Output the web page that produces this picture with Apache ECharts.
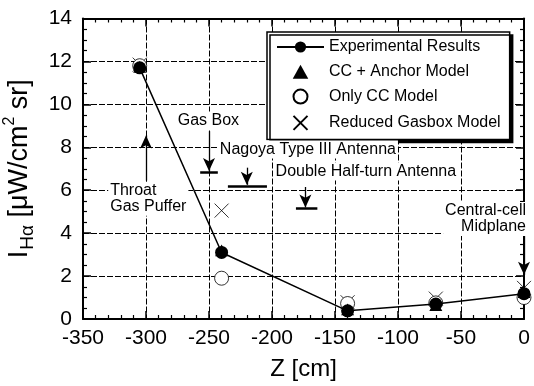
<!DOCTYPE html>
<html>
<head>
<meta charset="utf-8">
<script src="https://cdn.jsdelivr.net/npm/echarts@6/dist/echarts.min.js"></script>
<style>
  html, body { margin: 0; padding: 0; background: #fff; }
  #main { width: 534px; height: 386px; }
</style>
</head>
<body>
<div id="main"></div>
<script>
// measured values [z, intensity]
var expResults = [[-305, 11.7], [-240, 3.1], [-140, 0.38], [-70, 0.7], [0, 1.18]];
var ccAnchor = [[-305, 11.75], [-240, 3.2], [-140, 0.45], [-70, 0.65], [0, 1.25]];
var onlyCC = [[-305, 11.8], [-240, 1.9], [-140, 0.72], [-70, 0.75], [0, 1.0]];
var reducedGasbox = [[-305, 11.85], [-240, 5.05], [-140, 0.78], [-70, 0.95], [0, 1.45]];

// annotations, in data units
var annotLabels = [
  ['Gas Box', -250.5, 9.25, 'center'],
  ['Nagoya Type III Antenna', -171.5, 7.9, 'center'],
  ['Double Half-turn Antenna', -125.5, 6.87, 'center'],
  ['Throat\nGas Puffer', -330, 5.6, 'left'],
  ['Central-cell\nMidplane', 0, 4.66, 'right']
];
var arrows = [
  [-300, 6.45, -300, 8.55],
  [-250, 8.75, -250, 6.9],
  [-220, 7.05, -220, 6.25],
  [-173.5, 6.15, -173.5, 5.2],
  [0, 3.92, 0, 2.06]
];
var bars = [
  [-257, -243, 6.85],
  [-235, -204, 6.2],
  [-181, -164, 5.16]
];

var chart = echarts.init(document.getElementById('main'));
var FONT = 'Liberation Sans, Arial, sans-serif';

function baseX(pos) {
  return {
    type: 'value', min: -350, max: 0, interval: 50, position: pos,
    axisLine: { show: true, onZero: false, lineStyle: { color: '#000', width: 2 } },
    axisTick: { show: true, inside: true, length: 8, lineStyle: { color: '#000', width: 1.5 } },
    minorTick: { show: true, splitNumber: 5, length: 4, lineStyle: { color: '#000', width: 1.2 } },
    splitLine: { show: false },
    axisLabel: { show: false }
  };
}
function baseY(pos) {
  return {
    type: 'value', min: 0, max: 14, interval: 2, position: pos,
    axisLine: { show: true, onZero: false, lineStyle: { color: '#000', width: 2 } },
    axisTick: { show: true, inside: true, length: 8, lineStyle: { color: '#000', width: 1.5 } },
    minorTick: { show: true, splitNumber: 4, length: 4, lineStyle: { color: '#000', width: 1.2 } },
    splitLine: { show: false },
    axisLabel: { show: false }
  };
}

var xBottom = baseX('bottom');
xBottom.axisLabel = { show: true, color: '#000', fontFamily: FONT, fontSize: 21, margin: 9 };
xBottom.splitLine = { show: true, lineStyle: { color: '#000', width: 1, type: [6, 2] } };
xBottom.name = 'Z [cm]';
xBottom.nameLocation = 'middle';
xBottom.nameGap = 38;
xBottom.nameTextStyle = { color: '#000', fontFamily: FONT, fontSize: 24 };

var yLeft = baseY('left');
yLeft.axisLabel = { show: true, color: '#000', fontFamily: FONT, fontSize: 21, margin: 11 };
yLeft.splitLine = { show: true, lineStyle: { color: '#000', width: 1, type: [6, 2] } };
yLeft.name = '{a|I}{b|Hα}{a| [μW/cm}{c|2}{a| sr]}';
yLeft.nameLocation = 'middle';
yLeft.nameRotate = 90;
yLeft.nameGap = 46;
yLeft.nameTextStyle = {
  color: '#000', fontFamily: FONT, fontSize: 27,
  rich: {
    a: { fontFamily: FONT, fontSize: 27, color: '#000' },
    b: { fontFamily: FONT, fontSize: 19, color: '#000', verticalAlign: 'bottom', padding: [16, 0, 0, 1] },
    c: { fontFamily: FONT, fontSize: 16, color: '#000', verticalAlign: 'top', padding: [0, 0, 6, 0] }
  }
};

var labelData = annotLabels.map(function (a) {
  return {
    value: [a[1], a[2]],
    label: {
      show: true, position: 'inside', formatter: a[0], align: a[3], verticalAlign: 'middle',
      offset: a[3] === 'right' ? [4, 0] : [0, 0],
      color: '#000', fontFamily: FONT, fontSize: 16, lineHeight: 16,
      textBorderWidth: 0, textShadowBlur: 0,
      backgroundColor: '#fff', padding: [1, 2]
    }
  };
});

var triPath = 'path://M5,0L10,9L0,9Z';

chart.setOption({
  animation: false,
  backgroundColor: '#fff',
  grid: { left: 83, right: 10, top: 18.5, bottom: 67, outerBoundsMode: 'none', containLabel: false },
  xAxis: [xBottom, baseX('top')],
  yAxis: [yLeft, baseY('right')],
  legend: {
    orient: 'vertical', left: 267, top: 32, width: 250,
    padding: [7, 9, 7, 9],
    itemWidth: 47, itemHeight: 14, itemGap: 8.8,
    symbolKeepAspect: true,
    backgroundColor: '#fff', borderColor: '#000', borderWidth: 1.5, borderRadius: 0,
    shadowColor: '#000', shadowBlur: 0, shadowOffsetX: 3, shadowOffsetY: 3,
    textStyle: { color: '#000', fontFamily: FONT, fontSize: 16, width: 184 },
    data: ['Experimental Results', 'CC + Anchor Model', 'Only CC Model', 'Reduced Gasbox Model']
  },
  series: [
    {
      name: 'Reduced Gasbox Model', type: 'scatter', data: reducedGasbox,
      symbol: 'path://M0,0L10,10M10,0L0,10', symbolSize: 14,
      itemStyle: { color: 'none', borderColor: '#000', borderWidth: 0.8, opacity: 1 }
    },
    {
      name: 'Only CC Model', type: 'scatter', data: onlyCC,
      symbol: 'circle', symbolSize: 14,
      itemStyle: { color: '#fff', borderColor: '#000', borderWidth: 0.8, opacity: 1 }
    },
    {
      name: 'CC + Anchor Model', type: 'scatter', data: ccAnchor,
      symbol: triPath, symbolSize: 13, symbolKeepAspect: true,
      itemStyle: { color: '#000', opacity: 1 }
    },
    {
      name: 'Experimental Results', type: 'line', data: expResults,
      symbol: 'circle', symbolSize: 13, showAllSymbol: true,
      lineStyle: { color: '#000', width: 1.5 },
      itemStyle: { color: '#000', borderColor: '#000', borderWidth: 0 }
    },
    {
      name: 'annot', type: 'scatter', data: labelData, symbolSize: 0, silent: true, z: 5,
      itemStyle: { color: '#000', opacity: 1 },
      markLine: {
        silent: true, animation: false,
        symbol: ['none', 'arrow'], symbolSize: [9, 13],
        label: { show: false },
        lineStyle: { color: '#000', width: 1.3, type: 'solid' },
        data: arrows.map(function (a) {
          return [{ coord: [a[0], a[1]] }, { coord: [a[2], a[3]] }];
        })
      }
    },
    {
      name: 'bars', type: 'scatter', data: [], symbolSize: 0, silent: true,
      markLine: {
        silent: true, animation: false,
        symbol: ['none', 'none'],
        label: { show: false },
        lineStyle: { color: '#000', width: 2.5, type: 'solid' },
        data: bars.map(function (b) {
          return [{ coord: [b[0], b[2]] }, { coord: [b[1], b[2]] }];
        })
      }
    }
  ]
});
</script>
</body>
</html>
